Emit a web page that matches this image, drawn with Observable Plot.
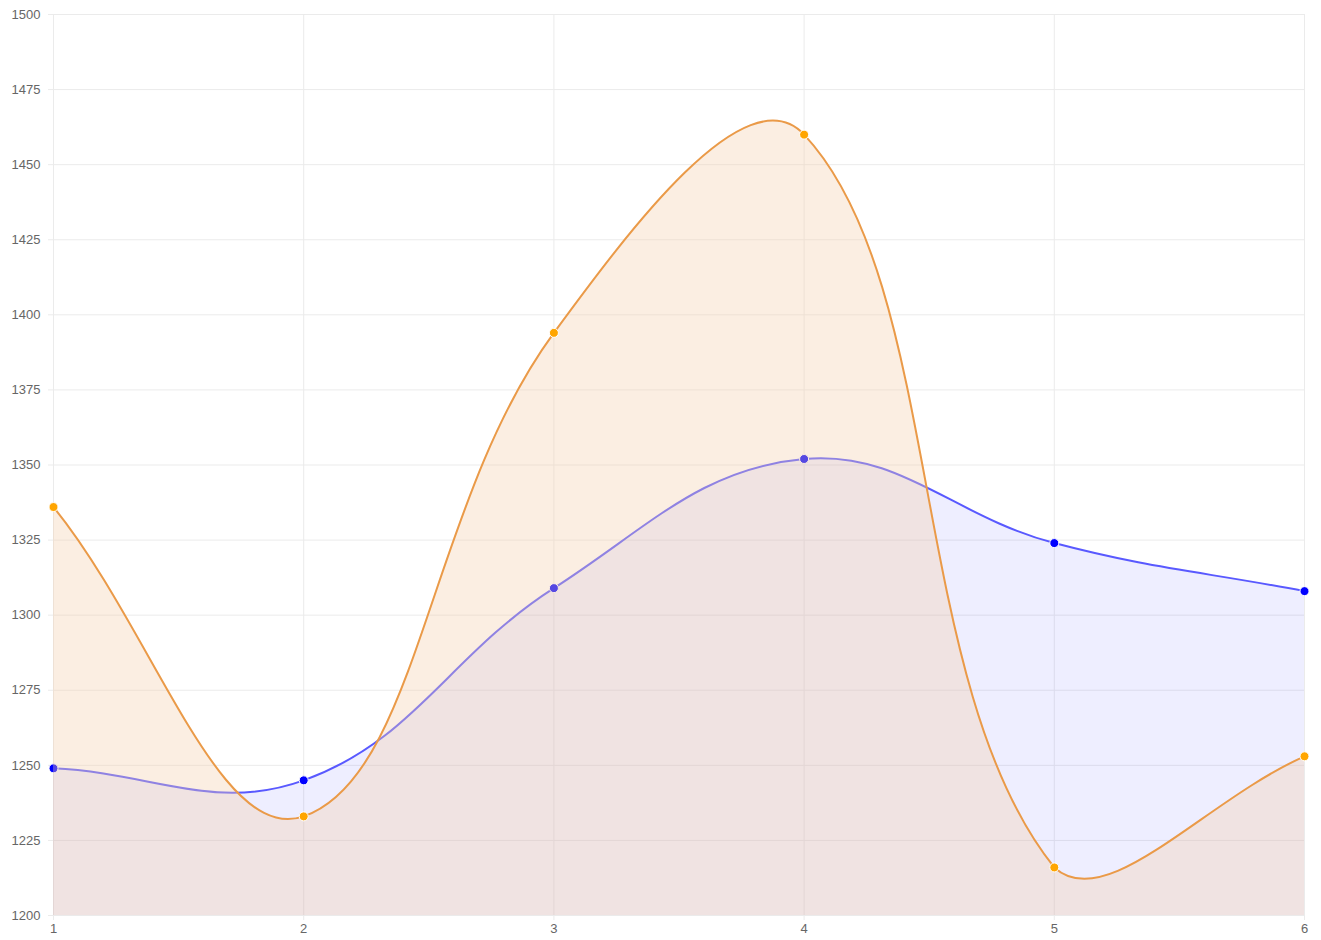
<!DOCTYPE html>
<html>
<head>
<meta charset="utf-8">
<script src="https://cdn.jsdelivr.net/npm/d3@7"></script>
<script src="https://cdn.jsdelivr.net/npm/@observablehq/plot@0.6"></script>
<style>
  html, body { margin: 0; padding: 0; background: #fff; overflow: hidden; }
  #chart svg { display: block; }
</style>
</head>
<body>
<div id="chart"></div>
<script>
// ---- data ----
const xValues = [1, 2, 3, 4, 5, 6];
const blueValues = [1249, 1245, 1309, 1352, 1324, 1308];
const orangeValues = [1336, 1233, 1394, 1460, 1216, 1253];
const yTicks = [1200, 1225, 1250, 1275, 1300, 1325, 1350, 1375, 1400, 1425, 1450, 1475, 1500];
const xTicks = [1, 2, 3, 4, 5, 6];

// ---- layout ----
const W = 1321, H = 940;
const mL = 53, mR = 17, mT = 14, mB = 25;

const blueData = xValues.map((x, i) => ({x, v: blueValues[i]}));
const orangeData = xValues.map((x, i) => ({x, v: orangeValues[i]}));
const yBase = yTicks[0];

// Chart.js-style bezier spline (tension 0.4), control points capped to chart area
function makeSpline(tension, area) {
  return function(context) {
    return {
      _line: NaN,
      areaStart() { this._line = 0; },
      areaEnd() { this._line = NaN; },
      lineStart() { this._pts = []; },
      point(x, y) { this._pts.push({x: +x, y: +y}); },
      lineEnd() {
        const p = this._pts, n = p.length, c = context;
        if (!n) return;
        if (this._line) c.lineTo(p[0].x, p[0].y); else c.moveTo(p[0].x, p[0].y);
        const cps = [];
        for (let i = 0; i < n; i++) {
          const cur = p[i];
          const prev = p[Math.max(i - 1, 0)];
          const next = p[Math.min(i + 1, n - 1)];
          const d01 = Math.hypot(cur.x - prev.x, cur.y - prev.y);
          const d12 = Math.hypot(next.x - cur.x, next.y - cur.y);
          let s01 = d01 / (d01 + d12), s12 = d12 / (d01 + d12);
          if (isNaN(s01)) s01 = 0;
          if (isNaN(s12)) s12 = 0;
          const fa = tension * s01, fb = tension * s12;
          const cap = (v, lo, hi) => Math.max(Math.min(v, hi), lo);
          let cp = {
            px: cur.x - fa * (next.x - prev.x), py: cur.y - fa * (next.y - prev.y),
            nx: cur.x + fb * (next.x - prev.x), ny: cur.y + fb * (next.y - prev.y)
          };
          if (area) {
            cp.px = cap(cp.px, area.left, area.right); cp.nx = cap(cp.nx, area.left, area.right);
            cp.py = cap(cp.py, area.top, area.bottom); cp.ny = cap(cp.ny, area.top, area.bottom);
          }
          cps.push(cp);
        }
        for (let i = 1; i < n; i++) {
          c.bezierCurveTo(cps[i - 1].nx, cps[i - 1].ny, cps[i].px, cps[i].py, p[i].x, p[i].y);
        }
        if (this._line || (this._line !== 0 && n === 1)) c.closePath();
        this._line = 1 - this._line;
      }
    };
  };
}
const spline = makeSpline(0.4, {left: mL, right: W - mR, top: mT, bottom: H - mB});

const gridColor = "#ebebeb";
const labelColor = "#666";

const blueLine = "rgb(89,89,255)";
const blueFill = "rgb(0,0,255)";
const orangeLine = "#ea9a48";
const orangeFill = "rgb(244,206,172)";
const orangeDot = "#ffa500";

const chart = Plot.plot({
  width: W, height: H,
  marginLeft: mL, marginRight: mR, marginTop: mT, marginBottom: mB,
  style: {fontFamily: "Helvetica, Arial, 'Liberation Sans', sans-serif", fontSize: "13px", color: labelColor, background: "#fff"},
  x: {domain: [xTicks[0], xTicks[xTicks.length - 1]], axis: null},
  y: {domain: [yTicks[0], yTicks[yTicks.length - 1]], axis: null},
  marks: [
    Plot.gridY(yTicks, {stroke: gridColor, strokeOpacity: 1}),
    Plot.gridX(xTicks, {stroke: gridColor, strokeOpacity: 1}),
    Plot.axisY(yTicks, {tickSize: 5, tickPadding: 8, stroke: gridColor, fill: labelColor, label: null, tickFormat: d => String(d)}),
    Plot.axisX(xTicks, {tickSize: 5, tickPadding: 3, stroke: gridColor, fill: labelColor, label: null, tickFormat: d => String(d)}),
    // blue dataset
    Plot.areaY(blueData, {x: "x", y1: yBase, y2: "v", curve: spline, fill: blueFill, fillOpacity: 0.067}),
    Plot.line(blueData, {x: "x", y: "v", curve: spline, stroke: blueLine, strokeWidth: 2}),
    Plot.dot(blueData, {x: "x", y: "v", r: 4.5, fill: "#0000ff", stroke: "#fff", strokeWidth: 1}),
    // orange dataset
    Plot.areaY(orangeData, {x: "x", y1: yBase, y2: "v", curve: spline, fill: orangeFill, fillOpacity: 0.35}),
    Plot.line(orangeData, {x: "x", y: "v", curve: spline, stroke: orangeLine, strokeWidth: 2}),
    Plot.dot(orangeData, {x: "x", y: "v", r: 4.5, fill: orangeDot, stroke: "#fff", strokeWidth: 1})
  ]
});
document.getElementById("chart").appendChild(chart);
</script>
</body>
</html>
